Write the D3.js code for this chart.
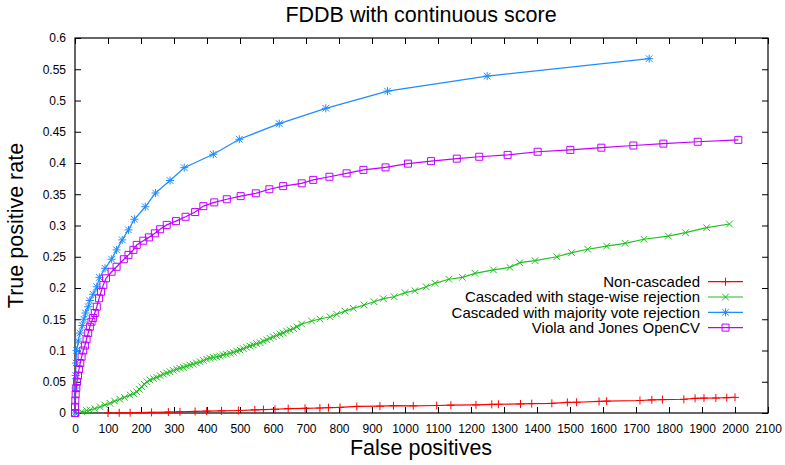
<!DOCTYPE html>
<html>
<head>
<meta charset="utf-8">
<script src="https://cdn.jsdelivr.net/npm/d3@7"></script>
<style>
  body { margin: 0; background: #fff; }
  svg text { font-family: "Liberation Sans", Arial, sans-serif; fill: #000; }
</style>
</head>
<body>
<svg id="chart" width="785" height="465"></svg>
<script>
// Werte: [false positives, true positive rate]
const nonCascaded = [
  [100, 0.0], [134, 0.0003], [167, 0.0005], [232, 0.001], [283, 0.0015], [318, 0.002],
  [364, 0.0025], [399, 0.003], [444, 0.0035], [495, 0.004], [545, 0.005], [571, 0.0055],
  [606, 0.006], [646, 0.007], [697, 0.0075], [742, 0.008], [768, 0.0085], [803, 0.009],
  [854, 0.0105], [924, 0.011], [965, 0.0117], [1025, 0.0115], [1096, 0.012], [1139, 0.0125],
  [1215, 0.013], [1263, 0.0138], [1283, 0.014], [1350, 0.0145], [1384, 0.015], [1445, 0.0155],
  [1492, 0.017], [1520, 0.0172], [1588, 0.0185], [1611, 0.019], [1712, 0.02], [1748, 0.021],
  [1780, 0.0215], [1845, 0.022], [1879, 0.0235], [1906, 0.0238], [1942, 0.024], [1975, 0.0245],
  [2000, 0.025]
];

const stageWise = [
  [5, 0], [20, 0.002], [35, 0.004], [45, 0.0048], [60, 0.007], [76, 0.01], [90, 0.013],
  [106, 0.0155], [120, 0.019], [136, 0.022], [150, 0.025], [167, 0.0288], [178, 0.031],
  [187, 0.034], [195, 0.038], [202, 0.042], [210, 0.046], [218, 0.05], [227, 0.0528],
  [238, 0.055], [248, 0.057], [258, 0.0597], [268, 0.062], [278, 0.064], [288, 0.066],
  [298, 0.068], [308, 0.07], [318, 0.0715], [328, 0.073], [338, 0.075], [348, 0.0768],
  [358, 0.078], [368, 0.08], [379, 0.082], [389, 0.084], [399, 0.086], [409, 0.0875],
  [419, 0.089], [429, 0.09], [439, 0.0912], [449, 0.093], [459, 0.094], [470, 0.0955],
  [480, 0.097], [490, 0.099], [500, 0.1008], [510, 0.103], [520, 0.105], [530, 0.1072],
  [540, 0.109], [550, 0.111], [561, 0.1125], [571, 0.115], [581, 0.117], [591, 0.1195],
  [601, 0.122], [611, 0.124], [621, 0.1264], [631, 0.128], [641, 0.131], [652, 0.1328],
  [662, 0.135], [672, 0.138], [687, 0.1424], [717, 0.1472], [742, 0.1504], [773, 0.154],
  [793, 0.158], [818, 0.163], [843, 0.1675], [876, 0.1728], [906, 0.178], [934, 0.183],
  [967, 0.186], [1000, 0.1925], [1030, 0.1957], [1064, 0.202], [1091, 0.2075], [1133, 0.214],
  [1174, 0.217], [1212, 0.2235], [1268, 0.229], [1318, 0.233], [1348, 0.2405], [1394, 0.2437],
  [1460, 0.25], [1505, 0.2565], [1554, 0.262], [1611, 0.267], [1667, 0.2715], [1724, 0.278],
  [1798, 0.283], [1850, 0.2885], [1914, 0.2965], [1983, 0.3024]
];

const majorityVote = [
  [0, 0], [1, 0.04], [2, 0.06], [3, 0.08], [5, 0.1], [10, 0.115], [15, 0.128], [22, 0.14],
  [27, 0.15], [32, 0.16], [40, 0.17], [45, 0.18], [55, 0.19], [66, 0.202], [74, 0.217],
  [91, 0.2315], [111, 0.246], [126, 0.261], [143, 0.277], [162, 0.293], [180, 0.31],
  [213, 0.33], [244, 0.352], [288, 0.372], [331, 0.3925], [419, 0.414], [498, 0.438],
  [619, 0.463], [760, 0.4875], [947, 0.515], [1249, 0.539], [1740, 0.567]
];

const violaJones = [
  [0, 0], [0, 0.01], [1, 0.02], [2, 0.03], [4, 0.04], [6, 0.05], [9, 0.06], [12, 0.07],
  [16, 0.08], [20, 0.09], [25, 0.1], [30, 0.108], [35, 0.118], [40, 0.128], [45, 0.138],
  [50, 0.146], [55, 0.152], [60, 0.16], [66, 0.17], [73, 0.1835], [79, 0.194], [86, 0.205],
  [94, 0.2155], [111, 0.226], [126, 0.234], [148, 0.246], [162, 0.253], [177, 0.261],
  [187, 0.269], [207, 0.2757], [224, 0.281], [242, 0.2875], [258, 0.294], [278, 0.301],
  [306, 0.307], [335, 0.314], [364, 0.3215], [389, 0.331], [422, 0.337], [460, 0.342],
  [502, 0.347], [548, 0.3515], [589, 0.358], [631, 0.363], [687, 0.3675], [722, 0.373],
  [771, 0.378], [823, 0.3835], [874, 0.389], [941, 0.393], [1009, 0.399], [1079, 0.403],
  [1157, 0.407], [1225, 0.41], [1311, 0.413], [1402, 0.418], [1501, 0.421], [1595, 0.4245],
  [1692, 0.428], [1783, 0.431], [1887, 0.434], [2010, 0.437]
];

const xTicks = d3.range(0, 2101, 100);
const yTicks = d3.range(0, 0.6001, 0.05);

const series = [
  { name: "Non-cascaded", data: nonCascaded, color: "#ff0000", marker: "plus" },
  { name: "Cascaded with stage-wise rejection", data: stageWise, color: "#20c020", marker: "cross" },
  { name: "Cascaded with majority vote rejection", data: majorityVote, color: "#1e8cff", marker: "star" },
  { name: "Viola and Jones OpenCV", data: violaJones, color: "#c000ff", marker: "square" }
];

const margin = { left: 75, right: 17, top: 38, bottom: 52 };
const width = 785, height = 465;
const svg = d3.select("#chart");

const x = d3.scaleLinear().domain([0, 2100]).range([margin.left, width - margin.right]);
const y = d3.scaleLinear().domain([0, 0.6]).range([height - margin.bottom, margin.top]);

// Marker-Pfade im gnuplot-Stil
function markerPath(type, cx, cy) {
  const h = 4, d = 3.3;
  if (type === "plus") return `M${cx - h},${cy}H${cx + h}M${cx},${cy - h}V${cy + h}`;
  if (type === "cross") return `M${cx - d},${cy - d}L${cx + d},${cy + d}M${cx - d},${cy + d}L${cx + d},${cy - d}`;
  if (type === "star") return `M${cx - h},${cy}H${cx + h}M${cx},${cy - h}V${cy + h}` +
    `M${cx - d},${cy - d}L${cx + d},${cy + d}M${cx - d},${cy + d}L${cx + d},${cy - d}`;
  return `M${cx - 3.5},${cy - 3.5}h7v7h-7Z`;
}

// Achsen (Ticks nach innen, gespiegelt)
const fmtY = d => (d === 0 ? "0" : String(+d.toFixed(2)));

svg.append("g")
  .attr("transform", `translate(0,${y(0)})`)
  .call(d3.axisBottom(x).tickValues(xTicks).tickSize(-6).tickPadding(11).tickFormat(d3.format("d")))
  .call(g => g.select(".domain").remove())
  .call(g => g.selectAll("text").attr("font-size", 12).attr("font-family", null));

svg.append("g")
  .attr("transform", `translate(0,${y(0.6)})`)
  .call(d3.axisTop(x).tickValues(xTicks).tickSize(-6).tickFormat(""))
  .call(g => g.select(".domain").remove());

svg.append("g")
  .attr("transform", `translate(${x(0)},0)`)
  .call(d3.axisLeft(y).tickValues(yTicks).tickSize(-6).tickPadding(9).tickFormat(fmtY))
  .call(g => g.select(".domain").remove())
  .call(g => g.selectAll("text").attr("font-size", 12).attr("font-family", null));

svg.append("g")
  .attr("transform", `translate(${x(2100)},0)`)
  .call(d3.axisRight(y).tickValues(yTicks).tickSize(-6).tickFormat(""))
  .call(g => g.select(".domain").remove());

svg.selectAll(".tick line").attr("stroke", "#000");

svg.append("rect")
  .attr("x", x(0)).attr("y", y(0.6))
  .attr("width", x(2100) - x(0)).attr("height", y(0) - y(0.6))
  .attr("fill", "none").attr("stroke", "#000").attr("stroke-width", 1.2);

// Kurven
const line = d3.line().x(d => x(d[0])).y(d => y(d[1]));

series.forEach(s => {
  const g = svg.append("g");
  g.append("path")
    .datum(s.data)
    .attr("d", line)
    .attr("fill", "none")
    .attr("stroke", s.color)
    .attr("stroke-width", 1.2);
  g.selectAll("path.mk")
    .data(s.data)
    .enter()
    .append("path")
    .attr("class", "mk")
    .attr("d", d => markerPath(s.marker, x(d[0]), y(d[1])))
    .attr("fill", "none")
    .attr("stroke", s.color)
    .attr("stroke-width", 1);
});

// Legende
const legend = svg.append("g");
series.forEach((s, i) => {
  const ly = 281.7 + i * 15.3;
  legend.append("text")
    .attr("x", 700).attr("y", ly)
    .attr("dy", "0.35em")
    .attr("text-anchor", "end")
    .attr("font-size", 15)
    .text(s.name);
  legend.append("line")
    .attr("x1", 708).attr("x2", 743)
    .attr("y1", ly).attr("y2", ly)
    .attr("stroke", s.color).attr("stroke-width", 1.2);
  legend.append("path")
    .attr("d", markerPath(s.marker, 725.5, ly))
    .attr("fill", "none").attr("stroke", s.color);
});

// Titel und Achsentitel
svg.append("text")
  .attr("x", 421).attr("y", 22)
  .attr("text-anchor", "middle")
  .attr("font-size", 21.5)
  .text("FDDB with continuous score");

svg.append("text")
  .attr("x", 421).attr("y", 455)
  .attr("text-anchor", "middle")
  .attr("font-size", 21.5)
  .text("False positives");

svg.append("text")
  .attr("transform", `translate(23,${(y(0) + y(0.6)) / 2}) rotate(-90)`)
  .attr("text-anchor", "middle")
  .attr("font-size", 21.5)
  .text("True positive rate");
</script>
</body>
</html>
